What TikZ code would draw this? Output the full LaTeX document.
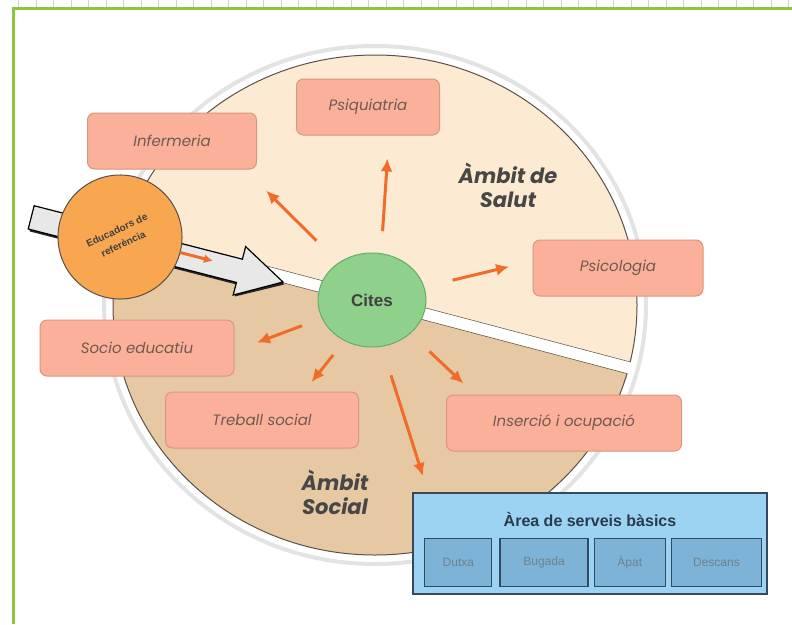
\documentclass[tikz,border=0pt]{standalone}
\usepackage{fontspec}
\usepackage{tikz}
\usetikzlibrary{calc,shapes,arrows,arrows.meta,positioning}
\newfontfamily\cajafont{Poppins}
\newfontfamily\titfont{Liberation Sans}
\definecolor{marcverd}{HTML}{8CC63F}
\definecolor{salut}{HTML}{FCEBD2}
\definecolor{social}{HTML}{E6C9A2}
\definecolor{vora}{HTML}{5A5048}
\definecolor{cajafondo}{HTML}{FBB199}
\definecolor{cajaborde}{HTML}{D8967C}
\definecolor{cajatexto}{HTML}{6E5A52}
\definecolor{flechacol}{HTML}{F26B2A}
\definecolor{taronja}{HTML}{F9A650}
\definecolor{verd}{HTML}{8FD18B}
\definecolor{blau}{HTML}{9CD3F2}
\definecolor{blaufosc}{HTML}{7DB3D6}
\definecolor{blauvora}{HTML}{34495E}
\tikzset{
    caja/.style={rectangle,rounded corners=7pt,draw=cajaborde,fill=cajafondo,line width=1pt,
        minimum height=56pt,text=cajatexto,font=\cajafont\itshape\fontsize{15}{15}\selectfont},
    ambit/.style={align=center,text=black!72,font=\cajafont\bfseries\itshape\fontsize{21}{24}\selectfont},
    flecha/.style={draw=flechacol,line width=3pt,-{Latex[length=13pt,width=12pt]}},
    educ/.style={circle,draw=vora,fill=taronja,line width=1pt,minimum size=124pt,inner sep=0pt,
        align=center,text=black!75,font=\titfont\bfseries\fontsize{10}{15}\selectfont},
    cites/.style={ellipse,draw=green!45!black!60,fill=verd,line width=1pt,minimum width=108pt,
        minimum height=94pt,inner sep=0pt,text=black!75,font=\titfont\bfseries\fontsize{17}{17}\selectfont},
    area/.style={rectangle,draw=blauvora,fill=blau,line width=1.5pt},
    servei/.style={rectangle,draw=blauvora,fill=blaufosc,line width=1.2pt,minimum height=48pt,
        text=blauvora!70,font=\titfont\fontsize{12}{12}\selectfont},
}
\begin{document}
\begin{tikzpicture}[x=1pt,y=-1pt]
    \useasboundingbox (0,0) rectangle (792,624);
    \fill[white] (0,0) rectangle (792,624);
    % marc
    \draw[gray!35,line width=7pt,dash pattern=on 1pt off 16.5pt] (18,3.5) -- (792,3.5);
    \draw[marcverd,line width=3pt] (13.5,624) -- (13.5,8) -- (792,8);

    % ambits
    \draw[gray!22,line width=4pt] (375,305) ellipse [x radius=271, y radius=259];
    \begin{scope}
        \clip (0,0) -- (0,195.8) -- (792,404.9) -- (792,0) -- cycle;
        \filldraw[fill=salut,draw=vora,line width=1pt] (375,305) ellipse [x radius=262, y radius=250];
        \clip (375,305) ellipse [x radius=262, y radius=250];
        \draw[vora,line width=1pt] (0,195.8) -- (792,404.9);
    \end{scope}
    \begin{scope}
        \clip (0,624) -- (0,207.8) -- (792,416.9) -- (792,624) -- cycle;
        \filldraw[fill=social,draw=vora,line width=1pt] (375,305) ellipse [x radius=262, y radius=250];
        \clip (375,305) ellipse [x radius=262, y radius=250];
        \draw[vora,line width=1pt] (0,207.8) -- (792,416.9);
    \end{scope}

    % fletxa grossa
    \begin{scope}[shift={(283,282)},rotate=-14.4]
        \fill[black!85] (-258,-10) -- (-43,-10) -- (-43,-22) -- (2,2) -- (-43,26) -- (-43,14) -- (-258,14) -- cycle;
        \filldraw[fill=gray!18,draw=black,line width=1.2pt] (-260,-12) -- (-45,-12) -- (-45,-25) -- (0,0) -- (-45,25) -- (-45,12) -- (-260,12) -- cycle;
    \end{scope}

    \node[educ,rotate=25] (educ) at (120,237) {Educadors de\\referència};
    \coordinate (punta) at (213,261);
    \draw[draw=flechacol,line width=3pt,-{Latex[length=9pt,width=9pt]}] (educ) -- (punta);

    \node[cites] (cites) at (372,300) {Cites};

    \node[caja,minimum width=169pt] (infer)   at (172,141) {Infermeria};
    \node[caja,minimum width=143pt] (psiq)    at (368,107) {Psiquiatria};
    \node[caja,minimum width=170pt] (psico)   at (618,268) {Psicologia};
    \node[caja,minimum width=194pt] (socio)   at (137,348) {Socio educatiu};
    \node[caja,minimum width=193pt] (treball) at (262,420) {Treball social};
    \node[caja,minimum width=235pt] (inser)   at (564,423) {Inserció i ocupació};

    \node[ambit] (salutlab)  at (508,185) {Àmbit de\\Salut};
    \node[ambit] (sociallab) at (335,492) {Àmbit\\Social};

    % area de serveis
    \node[area,minimum width=354pt,minimum height=101pt] (area) at (590,543.5) {};
    \node[text=blauvora!80!black,font=\titfont\bfseries\fontsize{16}{16}\selectfont] (areatit) at (590,519) {Àrea de serveis bàsics};
    \node[servei,minimum width=67pt,anchor=south west] (dutxa) at ([xshift=12pt,yshift=8pt]area.south west) {Dutxa};
    \node[servei,minimum width=88pt,right=7pt of dutxa]   (bugada)  {Bugada};
    \node[servei,minimum width=71pt,right=5pt of bugada]  (apat)    {Àpat};
    \node[servei,minimum width=90pt,right=5pt of apat]    (descans) {Descans};

    \draw[flecha,shorten <=31pt,shorten >=30pt] (cites.132) -- ([xshift=73pt]infer.south);
    \draw[flecha,shorten <=22pt,shorten >=23pt] (cites.79)  -- ([xshift=21pt]psiq.south);
    \draw[flecha,shorten <=29pt,shorten >=24pt] (cites.14)  -- ([yshift=7pt]psico.west);
    \draw[flecha,shorten <=21pt,shorten >=24pt] (cites.200) -- ([yshift=-3pt]socio.east);
    \draw[flecha,shorten <=18pt,shorten >=12pt] (cites.236) -- ([xshift=42pt]treball.north);
    \draw[flecha,shorten <=26pt,shorten >=16pt] (cites.319) -- ([xshift=-89pt]inser.north);
    \draw[flecha,shorten <=30pt,shorten >=17pt] (cites.282) -- ([xshift=-162pt]area.north);
\end{tikzpicture}
\end{document}
